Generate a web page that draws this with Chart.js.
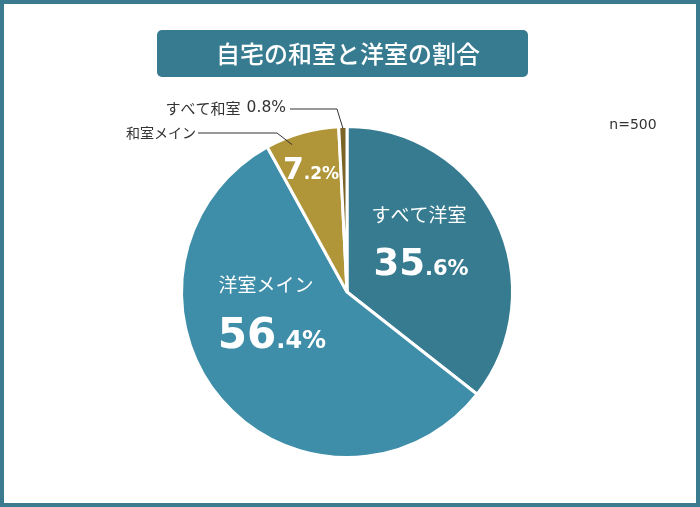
<!DOCTYPE html>
<html>
<head>
<meta charset="utf-8">
<script src="https://cdn.jsdelivr.net/npm/chart.js@4"></script>
<style>
  html, body { margin: 0; padding: 0; background: #fff; }
  #wrap { width: 700px; height: 507px; position: relative; }
</style>
</head>
<body>
<div id="wrap"><canvas id="myChart" width="700" height="507"></canvas></div>
<script>
// data
var categories = ['すべて洋室', '洋室メイン', '和室メイン', 'すべて和室'];
var shares = [35.6, 56.4, 7.2, 0.8];
var sliceColors = ['#377b90', '#3e8ea9', '#b09638', '#7a6426'];
var chartTitle = '自宅の和室と洋室の割合';
var sampleNote = 'n=500';

var JP = '"Noto Sans CJK JP", "Noto Sans", sans-serif';
var NUM = '"DejaVu Sans", Verdana, sans-serif';

// big number + small decimals, centred as a group
function drawPercent(ctx, value, cx, cy, bigSize, smallSize) {
  var s = value.toFixed(1).split('.');
  var big = s[0], small = '.' + s[1] + '%';
  ctx.font = 'bold ' + bigSize + 'px ' + NUM;
  var wb = ctx.measureText(big).width;
  ctx.font = 'bold ' + smallSize + 'px ' + NUM;
  var ws = ctx.measureText(small).width;
  var x0 = cx - (wb + ws) / 2;
  ctx.textAlign = 'left';
  ctx.textBaseline = 'alphabetic';
  var base = cy + bigSize * 0.36;
  ctx.font = 'bold ' + bigSize + 'px ' + NUM;
  ctx.fillText(big, x0, base);
  ctx.font = 'bold ' + smallSize + 'px ' + NUM;
  ctx.fillText(small, x0 + wb, base);
}

// frame, title box, n=
var backdrop = {
  id: 'backdrop',
  beforeDraw: function(chart) {
    var ctx = chart.ctx;
    ctx.save();
    ctx.fillStyle = '#fff';
    ctx.fillRect(0, 0, 700, 507);
    ctx.strokeStyle = '#3a7b90';
    ctx.lineWidth = 4;
    ctx.strokeRect(2, 2, 696, 503);

    ctx.fillStyle = '#377b90';
    ctx.beginPath();
    ctx.roundRect(157, 30, 371, 47, 5);
    ctx.fill();
    ctx.fillStyle = '#fff';
    ctx.font = '500 24px ' + JP;
    ctx.textAlign = 'center';
    ctx.textBaseline = 'middle';
    ctx.fillText(chartTitle, 348, 54);

    ctx.fillStyle = '#333';
    ctx.font = '14px ' + NUM;
    ctx.fillText(sampleNote, 633, 125);
    ctx.restore();
  }
};

// labels on / beside the slices
var sliceLabels = {
  id: 'sliceLabels',
  afterDraw: function(chart) {
    var ctx = chart.ctx;
    var arcs = chart.getDatasetMeta(0).data;
    var cx = arcs[0].x, cy = arcs[0].y, r = arcs[0].outerRadius;
    ctx.save();
    ctx.fillStyle = '#fff';
    ctx.textAlign = 'center';
    ctx.textBaseline = 'middle';

    ctx.font = '19px ' + JP;
    ctx.fillText(categories[0], cx + 72, cy - 77);
    drawPercent(ctx, shares[0], cx + 74, cy - 30, 37, 21);

    ctx.font = '19px ' + JP;
    ctx.textAlign = 'center';
    ctx.textBaseline = 'middle';
    ctx.fillText(categories[1], cx - 81, cy - 7);
    drawPercent(ctx, shares[1], cx - 75, cy + 41, 42, 24);

    drawPercent(ctx, shares[2], cx - 36, cy - 124, 30, 17);

    // leader lines
    ctx.strokeStyle = '#333';
    ctx.lineWidth = 1;
    function pointOn(i, frac, shift) {
      var a = arcs[i];
      var ang = (a.startAngle + a.endAngle) / 2 + (shift || 0);
      return [cx + Math.cos(ang) * r * frac, cy + Math.sin(ang) * r * frac];
    }
    var p2 = pointOn(2, 0.95, -0.08);
    ctx.beginPath();
    ctx.moveTo(198, 133);
    ctx.lineTo(277, 133);
    ctx.lineTo(p2[0], p2[1]);
    ctx.stroke();

    var p3 = pointOn(3, 0.99);
    ctx.beginPath();
    ctx.moveTo(290, 109);
    ctx.lineTo(337, 109);
    ctx.lineTo(p3[0], p3[1]);
    ctx.stroke();

    ctx.fillStyle = '#333';
    ctx.font = '14px ' + JP;
    ctx.textAlign = 'right';
    ctx.textBaseline = 'middle';
    ctx.fillText(categories[2], 196, 133);
    ctx.font = '15.5px ' + NUM;
    var pct = shares[3].toFixed(1) + '%';
    ctx.fillText(pct, 286, 108);
    var wp = ctx.measureText(pct).width + 6;
    ctx.font = '15px ' + JP;
    ctx.fillText(categories[3], 286 - wp, 108);
    ctx.restore();
  }
};

var element = document.getElementById('myChart').getContext('2d');

var chartData = {
  labels: categories,
  datasets: [{
    data: shares,
    backgroundColor: sliceColors,
    borderColor: '#fff',
    borderWidth: 3
  }]
};

var chartOptions = {
  responsive: false,
  animation: false,
  layout: {
    padding: { left: 180, right: 186, top: 125, bottom: 48 }
  },
  plugins: {
    legend: { display: false },
    tooltip: { enabled: false }
  }
};

var chart = new Chart(element, {
  type: 'pie',
  data: chartData,
  options: chartOptions,
  plugins: [backdrop, sliceLabels]
});
</script>
</body>
</html>
